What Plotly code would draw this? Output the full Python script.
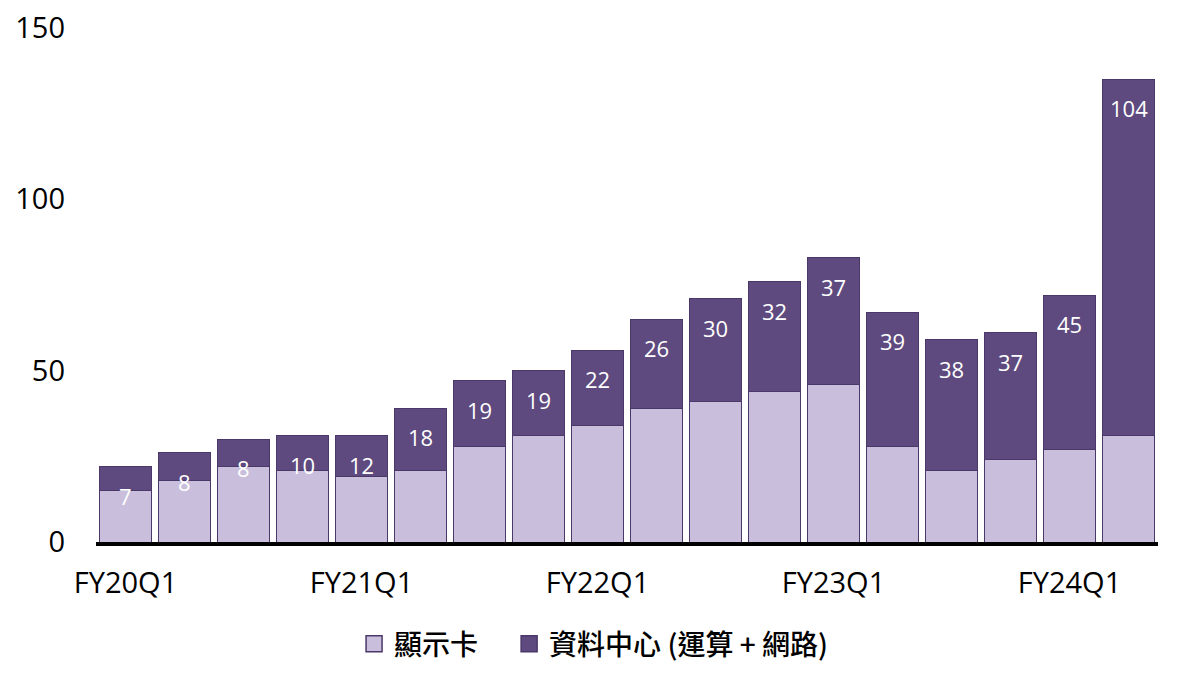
import plotly.graph_objects as go

quarters = [
    "FY20Q1", "FY20Q2", "FY20Q3", "FY20Q4",
    "FY21Q1", "FY21Q2", "FY21Q3", "FY21Q4",
    "FY22Q1", "FY22Q2", "FY22Q3", "FY22Q4",
    "FY23Q1", "FY23Q2", "FY23Q3", "FY23Q4",
    "FY24Q1", "FY24Q2",
]
graphics = [15, 18, 22, 21, 19, 21, 28, 31, 34, 39, 41, 44, 46, 28, 21, 24, 27, 31]
datacenter = [7, 8, 8, 10, 12, 18, 19, 19, 22, 26, 30, 32, 37, 39, 38, 37, 45, 104]
tick_quarters = ["FY20Q1", "FY21Q1", "FY22Q1", "FY23Q1", "FY24Q1"]
y_ticks = [0, 50, 100, 150]
series_names = ["顯示卡", "資料中心 (運算\u00a0+\u00a0網路)"]

light = "#C9BFDD"
dark = "#5E4A7E"
edge = "#4A3868"

fig = go.Figure()
fig.add_trace(go.Bar(
    x=quarters, y=graphics, name=series_names[0], showlegend=False,
    marker=dict(color=light, line=dict(color=edge, width=1)),
))
fig.add_trace(go.Bar(
    x=quarters, y=datacenter, name=series_names[1], showlegend=False,
    marker=dict(color=dark, line=dict(color=edge, width=1)),
))
# legend swatches (larger squares like the reference)
for name, col, lg in zip(series_names, [light, dark], ["legend", "legend2"]):
    fig.add_trace(go.Scatter(
        x=[None], y=[None], mode="markers", name=name, legend=lg,
        marker=dict(symbol="square", size=19, color=col,
                    line=dict(color=edge, width=1.5)),
    ))

for q, g, d in zip(quarters, graphics, datacenter):
    fig.add_annotation(
        x=q, y=g + d, text=str(d), showarrow=False, yshift=-29,
        font=dict(family="Open Sans, Noto Sans", size=22, color="white"),
    )

legend_font = dict(family="Noto Sans CJK TC", size=28, color="black", weight=500)

fig.update_layout(
    barmode="stack",
    bargap=0.12,
    width=1200, height=678,
    margin=dict(l=96, r=42, t=28, b=136, autoexpand=False),
    plot_bgcolor="white", paper_bgcolor="white",
    font=dict(family="Open Sans, Noto Sans CJK TC", color="black"),
    showlegend=True,
    legend=dict(
        orientation="h", x=0.243, xanchor="left", y=-0.15, yanchor="top",
        font=legend_font, itemwidth=30,
    ),
    legend2=dict(
        orientation="h", x=0.389, xanchor="left", y=-0.15, yanchor="top",
        font=legend_font, itemwidth=30,
    ),
    xaxis=dict(
        type="category", automargin=False,
        tickmode="array", tickvals=tick_quarters, ticktext=tick_quarters,
        tickfont=dict(size=29, family="Open Sans"),
        showline=True, linecolor="black", linewidth=4,
        ticks="", showgrid=False, ticklabelstandoff=12,
    ),
    yaxis=dict(
        range=[0, 150], tickvals=y_ticks, automargin=False,
        tickfont=dict(size=29, family="Open Sans"),
        showgrid=False, zeroline=False, ticks="", showline=False,
        ticklabelstandoff=30,
    ),
)

fig.write_html("out.html")
